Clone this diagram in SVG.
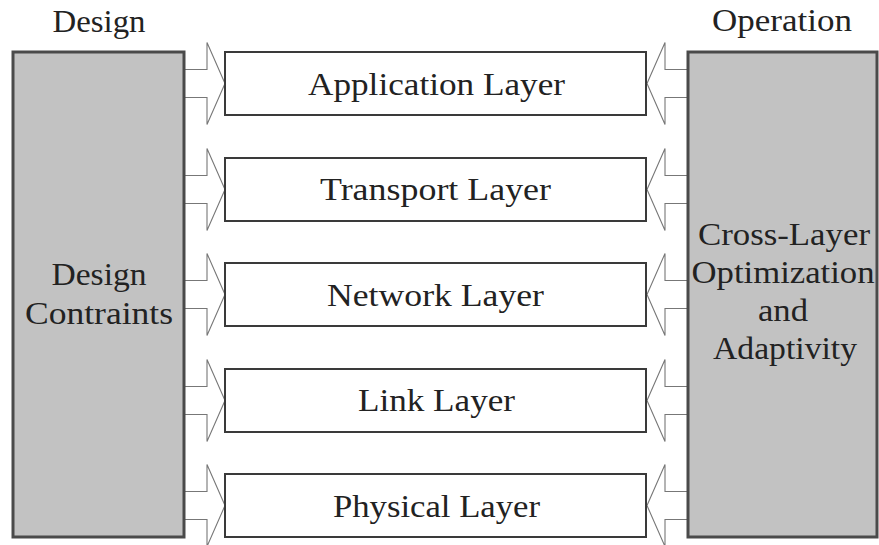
<svg xmlns="http://www.w3.org/2000/svg" width="879" height="545" viewBox="0 0 879 545">
  <style>
    .lbl { font-family: "Liberation Serif", "Times New Roman", serif; font-size: 32px; fill: #222; text-anchor: middle; }
    .side { fill: #c2c2c2; stroke: #4a4a4a; stroke-width: 3; }
    .layer { fill: #ffffff; stroke: #3a3a3a; stroke-width: 2; }
    .arrow { fill: none; stroke: #777777; stroke-width: 1.1; stroke-linejoin: miter; }
  </style>
  <defs>
    <!-- block arrow pointing right, centred on y=0, from x=0 (tail) to x=40 (tip) -->
    <path id="arrowR" d="M0,-14 H22 V-41 L40,0 L22,41 V14 H0"/>
    <!-- block arrow pointing left, from x=0 (tail) to x=-41 (tip) -->
    <path id="arrowL" d="M0,-14 H-23 V-41 L-41,0 L-23,41 V14 H0"/>
  </defs>

  <rect width="879" height="545" fill="#ffffff"/>

  <!-- column headings -->
  <text class="lbl" x="99" y="32" textLength="93" lengthAdjust="spacingAndGlyphs">Design</text>
  <text class="lbl" x="782" y="31" textLength="140" lengthAdjust="spacingAndGlyphs">Operation</text>

  <!-- connectors: design constraints into layers, optimization into layers -->
  <g id="connectors" class="arrow">
    <use href="#arrowR" x="185" y="83.5"/>
    <use href="#arrowR" x="185" y="189.5"/>
    <use href="#arrowR" x="185" y="294.5"/>
    <use href="#arrowR" x="185" y="400.5"/>
    <use href="#arrowR" x="185" y="505.5"/>
    <use href="#arrowL" x="688" y="83.5"/>
    <use href="#arrowL" x="688" y="189.5"/>
    <use href="#arrowL" x="688" y="294.5"/>
    <use href="#arrowL" x="688" y="400.5"/>
    <use href="#arrowL" x="688" y="505.5"/>
  </g>

  <g id="design-constraints">
    <rect class="side" x="13" y="52" width="171" height="485"/>
    <text class="lbl" x="99" y="285" textLength="95" lengthAdjust="spacingAndGlyphs">Design</text>
    <text class="lbl" x="99" y="324" textLength="148" lengthAdjust="spacingAndGlyphs">Contraints</text>
  </g>

  <g id="cross-layer">
    <rect class="side" x="688" y="52" width="189" height="485"/>
    <text class="lbl" x="784" y="245" textLength="172" lengthAdjust="spacingAndGlyphs">Cross-Layer</text>
    <text class="lbl" x="783" y="283" textLength="183" lengthAdjust="spacingAndGlyphs">Optimization</text>
    <text class="lbl" x="783" y="321" textLength="50" lengthAdjust="spacingAndGlyphs">and</text>
    <text class="lbl" x="785" y="359" textLength="144" lengthAdjust="spacingAndGlyphs">Adaptivity</text>
  </g>

  <g id="application-layer">
    <rect class="layer" x="225" y="52" width="421" height="63"/>
    <text class="lbl" x="436.5" y="95" textLength="257" lengthAdjust="spacingAndGlyphs">Application Layer</text>
  </g>
  <g id="transport-layer">
    <rect class="layer" x="225" y="158" width="421" height="63"/>
    <text class="lbl" x="435.5" y="200" textLength="231" lengthAdjust="spacingAndGlyphs">Transport Layer</text>
  </g>
  <g id="network-layer">
    <rect class="layer" x="225" y="263" width="421" height="63"/>
    <text class="lbl" x="435.5" y="306" textLength="217" lengthAdjust="spacingAndGlyphs">Network Layer</text>
  </g>
  <g id="link-layer">
    <rect class="layer" x="225" y="369" width="421" height="63"/>
    <text class="lbl" x="436.5" y="411" textLength="157" lengthAdjust="spacingAndGlyphs">Link Layer</text>
  </g>
  <g id="physical-layer">
    <rect class="layer" x="225" y="474" width="421" height="63"/>
    <text class="lbl" x="436.5" y="517" textLength="207" lengthAdjust="spacingAndGlyphs">Physical Layer</text>
  </g>
</svg>
